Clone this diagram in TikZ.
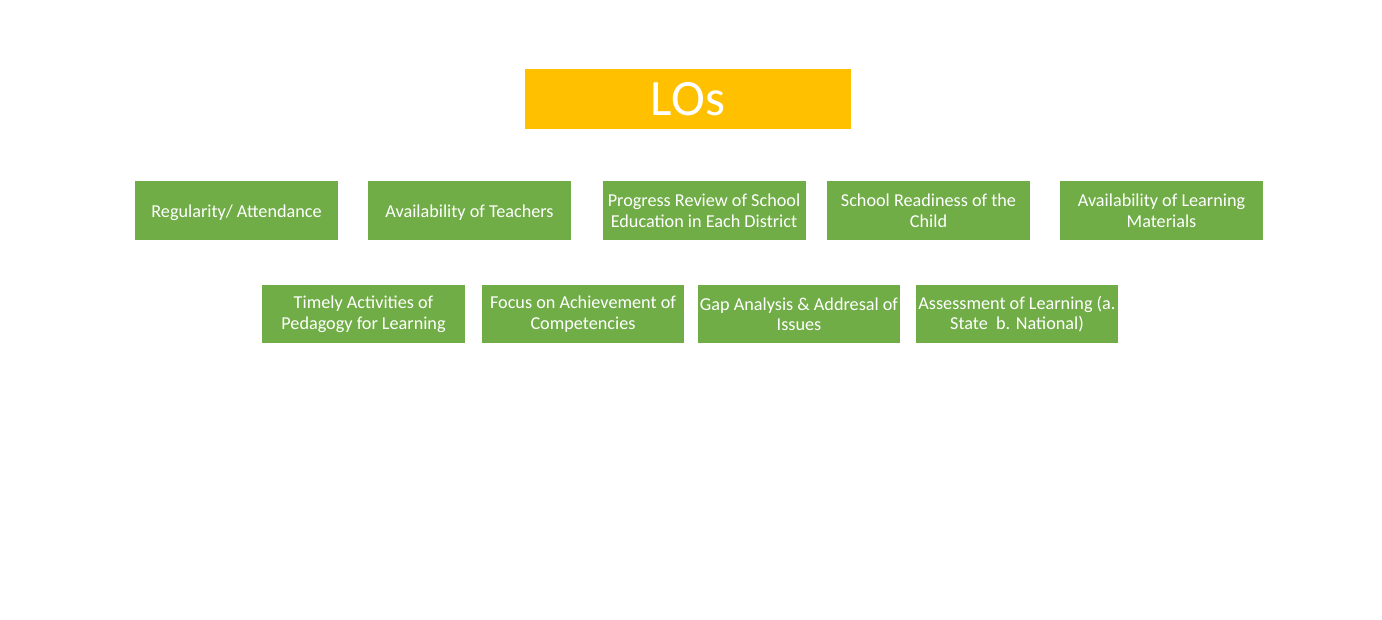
\documentclass[tikz,border=0pt]{standalone}
\usepackage{fontspec}
\setmainfont{Carlito}
\definecolor{loorange}{HTML}{FFC000}
\definecolor{factorgreen}{HTML}{70AD47}
\begin{document}
\begin{tikzpicture}[x=1pt,y=-1pt,
  titlebox/.style={fill=loorange, text=white, inner sep=0pt,
    minimum width=326pt, minimum height=60pt,
    font=\fontsize{51}{60}\selectfont},
  factor/.style={fill=factorgreen, text=white, inner sep=0pt, align=center,
    minimum width=203pt, minimum height=59pt,
    font=\fontsize{18.2}{20.5}\selectfont},
  oneline/.style={text height=17pt, text depth=3pt}]
  \useasboundingbox (0,0) rectangle (1382,619);
  % heading
  \node[titlebox] (los) at (688,99) {LOs};
  % first row of factors
  \node[factor, oneline] (reg)  at (236.5,210.5) {Regularity/ Attendance};
  \node[factor, oneline] (teach) at (469.5,210.5) {Availability of Teachers};
  \node[factor] (prog) at (704,210.5) {Progress Review of School\\Education in Each District};
  \node[factor] (ready) at (928.5,210.5) {School Readiness of the\\Child};
  \node[factor] (mat)  at (1161.5,210.5) {Availability of Learning\\Materials};
  % second row of factors
  \node[factor, minimum height=58pt] (ped)  at (363.5,314) {Timely Activities of\\Pedagogy for Learning};
  \node[factor, minimum height=58pt, minimum width=202pt] (comp) at (583,314) {Focus on Achievement of\\Competencies};
  \node[factor, minimum height=58pt, minimum width=202pt] (gap)  at (799,314) {Gap Analysis \& Addresal of\\Issues};
  \node[factor, minimum height=58pt, minimum width=202pt] (assess) at (1017,314) {Assessment of Learning (a.\\State\ \ b. National)};
\end{tikzpicture}
\end{document}
